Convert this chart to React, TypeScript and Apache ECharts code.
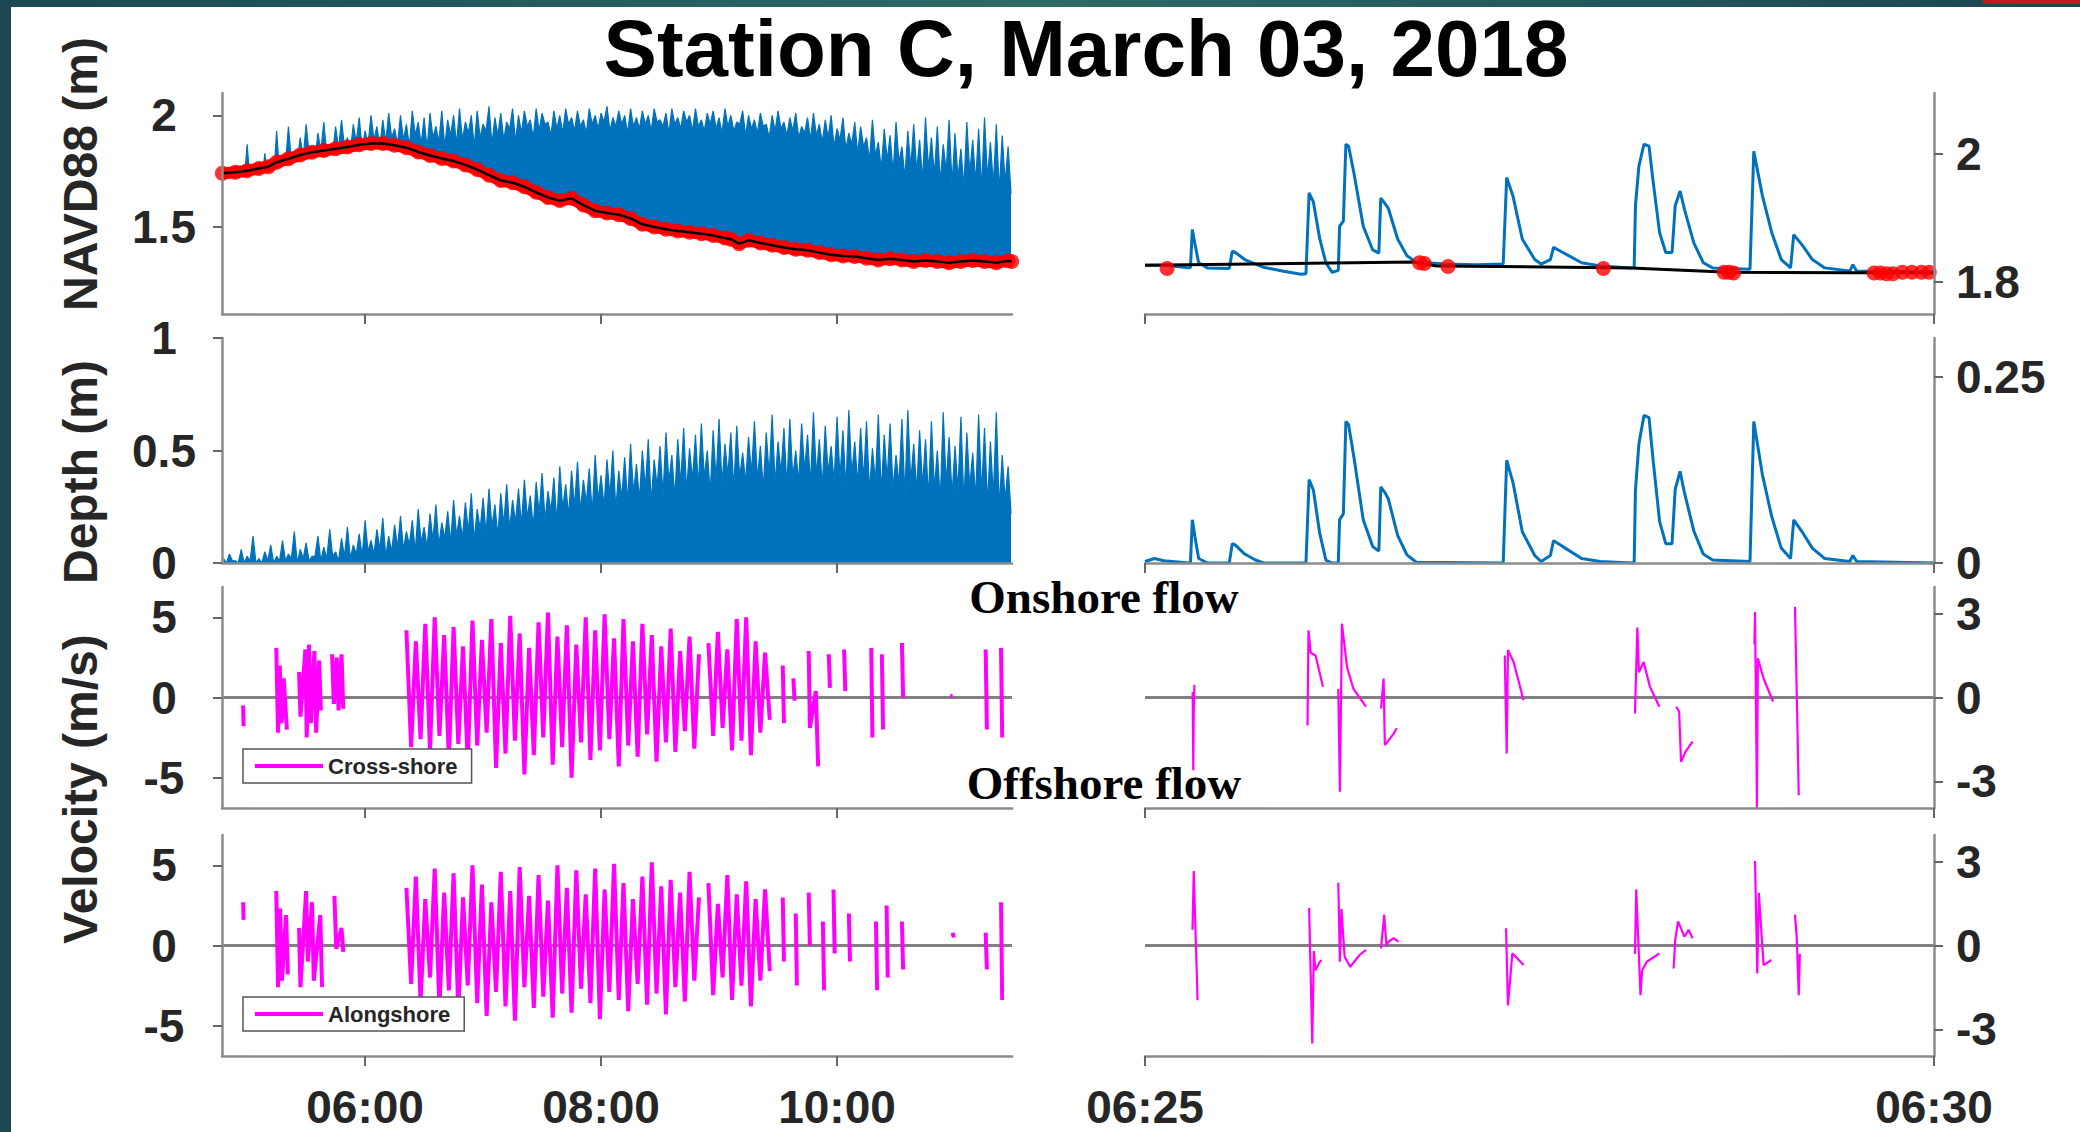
import React, { useEffect, useRef } from "react";
import * as echarts from "echarts";

const FONT = "'Liberation Sans', Arial, Helvetica, sans-serif";
const SERIF = "'Liberation Serif', 'Times New Roman', serif";

// ---------------- data ----------------
const titleText = "Station C, March 03, 2018";
const leftTickHours = [6, 8, 10];
const rightTickMinutes = [25, 30];
const navdLeftTicks = [1.5, 2];
const navdRightTicks = [1.8, 2];
const depthLeftTicks = [0, 0.5, 1];
const depthRightTicks = [0, 0.25];
const velLeftTicks = [-5, 0, 5];
const velRightTicks = [-3, 0, 3];

// dense records, left panels (hours): spike tops every denseStep from denseStart,
// and the troughs half a step later
const denseStart = 4.8;
const denseStep = 0.05;
const navdPeaks = [
  1.70, 1.70, 1.72, 1.70, 1.87, 1.72, 1.74, 1.83, 1.74, 1.93,
  1.80, 1.95, 1.82, 1.90, 1.96, 1.84, 1.92, 1.97, 1.85, 1.95,
  1.98, 1.90, 1.96, 1.99, 1.93, 2.00, 1.95, 1.98, 2.01, 1.94,
  2.00, 1.96, 2.02, 1.97, 1.99, 2.01, 1.95, 2.02, 1.98, 2.00,
  2.03, 1.97, 2.00, 2.02, 1.96, 2.04, 1.99, 2.01, 1.97, 2.03,
  2.00, 2.02, 1.98, 2.03, 2.01, 1.97, 2.02, 2.00, 2.03, 1.99,
  2.02, 1.98, 2.03, 2.00, 2.01, 2.04, 1.99, 2.02, 2.00, 2.03,
  1.99, 2.02, 2.00, 2.03, 1.98, 2.01, 2.03, 1.99, 2.02, 2.00,
  2.03, 1.98, 2.01, 2.02, 1.99, 2.03, 2.00, 1.97, 2.02, 2.00,
  1.98, 2.01, 1.96, 2.00, 2.02, 1.97, 1.99, 2.01, 1.95, 1.99,
  2.01, 1.96, 1.98, 2.00, 1.94, 1.99, 1.92, 1.97, 1.95, 1.90,
  1.98, 1.88, 1.94, 1.91, 1.97, 1.86, 1.93, 1.96, 1.89, 1.99,
  1.90, 1.95, 1.87, 1.98, 1.92, 1.85, 1.97, 1.89, 1.94, 1.99,
  1.88, 1.96, 1.91, 1.86,
];
const navdTroughs = [
  1.70, 1.70, 1.70, 1.70, 1.70, 1.70, 1.70, 1.70, 1.72, 1.74,
  1.78, 1.80, 1.79, 1.81, 1.83, 1.80, 1.84, 1.82, 1.83, 1.85,
  1.86, 1.84, 1.88, 1.85, 1.87, 1.89, 1.86, 1.88, 1.90, 1.87,
  1.89, 1.86, 1.91, 1.87, 1.85, 1.90, 1.88, 1.86, 1.91, 1.87,
  1.89, 1.92, 1.86, 1.90, 1.93, 1.87, 1.91, 1.89, 1.94, 1.88,
  1.92, 1.95, 1.90, 1.93, 1.96, 1.91, 1.94, 1.92, 1.96, 1.93,
  1.95, 1.92, 1.96, 1.94, 1.97, 1.93, 1.95, 1.96, 1.92, 1.95,
  1.94, 1.96, 1.93, 1.97, 1.95, 1.92, 1.96, 1.94, 1.97, 1.93,
  1.95, 1.93, 1.96, 1.94, 1.92, 1.95, 1.93, 1.96, 1.91, 1.94,
  1.92, 1.95, 1.90, 1.93, 1.94, 1.91, 1.93, 1.90, 1.92, 1.89,
  1.91, 1.88, 1.90, 1.86, 1.89, 1.85, 1.87, 1.83, 1.86, 1.80,
  1.82, 1.76, 1.80, 1.74, 1.79, 1.72, 1.77, 1.75, 1.71, 1.76,
  1.73, 1.70, 1.75, 1.69, 1.72, 1.68, 1.74, 1.70, 1.67, 1.72,
  1.69, 1.66, 1.70, 1.65,
];
const depthPeaks = [
  0.02, 0.04, 0.01, 0.06, 0.03, 0.12, 0.02, 0.05, 0.08, 0.03,
  0.10, 0.04, 0.14, 0.06, 0.09, 0.03, 0.12, 0.07, 0.15, 0.05,
  0.11, 0.16, 0.08, 0.13, 0.19, 0.10, 0.15, 0.20, 0.12, 0.17,
  0.21, 0.14, 0.19, 0.24, 0.16, 0.22, 0.26, 0.18, 0.23, 0.28,
  0.21, 0.27, 0.31, 0.24, 0.29, 0.33, 0.26, 0.31, 0.35, 0.28,
  0.33, 0.37, 0.30, 0.36, 0.40, 0.32, 0.38, 0.43, 0.35, 0.41,
  0.45, 0.37, 0.42, 0.48, 0.39, 0.46, 0.50, 0.41, 0.47, 0.53,
  0.44, 0.50, 0.55, 0.46, 0.52, 0.58, 0.48, 0.55, 0.60, 0.51,
  0.57, 0.62, 0.50, 0.59, 0.64, 0.53, 0.58, 0.61, 0.49, 0.56,
  0.63, 0.52, 0.58, 0.66, 0.54, 0.60, 0.64, 0.50, 0.62, 0.57,
  0.67, 0.55, 0.61, 0.52, 0.65, 0.59, 0.68, 0.54, 0.60, 0.63,
  0.51, 0.66, 0.57, 0.62, 0.48, 0.64, 0.68, 0.53, 0.59, 0.55,
  0.63, 0.50, 0.67, 0.56, 0.52, 0.65, 0.58, 0.49, 0.66, 0.60,
  0.54, 0.67, 0.48, 0.43,
];
const depthTroughs = [
  0.00, 0.01, 0.00, 0.00, 0.01, 0.00, 0.00, 0.01, 0.00, 0.01,
  0.01, 0.02, 0.00, 0.02, 0.01, 0.03, 0.01, 0.02, 0.03, 0.01,
  0.03, 0.02, 0.04, 0.03, 0.05, 0.04, 0.06, 0.03, 0.05, 0.07,
  0.06, 0.08, 0.05, 0.09, 0.07, 0.10, 0.08, 0.11, 0.09, 0.12,
  0.11, 0.14, 0.10, 0.15, 0.13, 0.16, 0.12, 0.17, 0.15, 0.18,
  0.17, 0.20, 0.16, 0.22, 0.19, 0.23, 0.18, 0.24, 0.21, 0.25,
  0.23, 0.27, 0.22, 0.28, 0.25, 0.30, 0.24, 0.29, 0.27, 0.31,
  0.28, 0.33, 0.27, 0.34, 0.30, 0.36, 0.29, 0.35, 0.32, 0.37,
  0.34, 0.38, 0.31, 0.37, 0.35, 0.39, 0.33, 0.38, 0.36, 0.40,
  0.37, 0.33, 0.39, 0.35, 0.40, 0.34, 0.38, 0.36, 0.41, 0.35,
  0.39, 0.34, 0.40, 0.36, 0.38, 0.33, 0.39, 0.35, 0.37, 0.32,
  0.36, 0.31, 0.37, 0.33, 0.35, 0.30, 0.36, 0.32, 0.34, 0.29,
  0.33, 0.28, 0.35, 0.30, 0.32, 0.27, 0.34, 0.29, 0.31, 0.26,
  0.30, 0.25, 0.28, 0.22,
];
// bed level (black line, red detections), left: [hour, m]
const bedLeft = [
  [4.79, 1.740], [4.90, 1.745], [5.00, 1.752], [5.10, 1.762], [5.18, 1.770], [5.25, 1.790],
  [5.35, 1.805], [5.45, 1.822], [5.55, 1.835], [5.65, 1.842], [5.75, 1.850], [5.85, 1.858],
  [5.95, 1.868], [6.05, 1.874], [6.15, 1.874], [6.25, 1.866], [6.35, 1.855], [6.45, 1.836],
  [6.55, 1.820], [6.65, 1.807], [6.75, 1.795], [6.85, 1.778], [6.95, 1.757], [7.05, 1.732],
  [7.15, 1.708], [7.25, 1.698], [7.35, 1.680], [7.45, 1.655], [7.55, 1.632], [7.65, 1.618],
  [7.75, 1.628], [7.85, 1.598], [7.95, 1.572], [8.05, 1.562], [8.15, 1.555], [8.25, 1.538],
  [8.35, 1.512], [8.45, 1.500], [8.55, 1.490], [8.65, 1.482], [8.75, 1.476], [8.85, 1.470],
  [8.95, 1.462], [9.05, 1.450], [9.10, 1.445], [9.17, 1.425], [9.25, 1.440], [9.35, 1.428],
  [9.45, 1.418], [9.55, 1.408], [9.65, 1.400], [9.75, 1.396], [9.85, 1.385], [9.95, 1.375],
  [10.05, 1.370], [10.15, 1.368], [10.25, 1.360], [10.35, 1.352], [10.45, 1.358], [10.55, 1.352],
  [10.65, 1.345], [10.75, 1.350], [10.85, 1.345], [10.95, 1.340], [11.05, 1.345], [11.15, 1.350],
  [11.25, 1.345], [11.35, 1.340], [11.45, 1.348], [11.48, 1.345],
];

// right panels: [minute after 06:00, value]
const navdRight = [
  [25.000, 1.826], [25.120, 1.826], [25.277, 1.822], [25.288, 1.823], [25.300, 1.882], [25.316, 1.860],
  [25.340, 1.830], [25.395, 1.822], [25.534, 1.821], [25.553, 1.848], [25.573, 1.846], [25.632, 1.835],
  [25.700, 1.828], [25.751, 1.823], [25.870, 1.817], [25.988, 1.812], [26.020, 1.813], [26.040, 1.939],
  [26.067, 1.925], [26.107, 1.868], [26.146, 1.830], [26.186, 1.815], [26.225, 1.818], [26.233, 1.887],
  [26.257, 1.895], [26.273, 2.015], [26.290, 2.012], [26.324, 1.970], [26.383, 1.887], [26.443, 1.850],
  [26.482, 1.845], [26.494, 1.931], [26.522, 1.922], [26.542, 1.915], [26.601, 1.867], [26.660, 1.841],
  [26.719, 1.831], [26.900, 1.828], [27.100, 1.827], [27.270, 1.828], [27.292, 1.963], [27.332, 1.934],
  [27.391, 1.867], [27.470, 1.835], [27.510, 1.828], [27.569, 1.835], [27.589, 1.854], [27.648, 1.846],
  [27.767, 1.830], [27.885, 1.825], [28.083, 1.822], [28.100, 1.823], [28.108, 1.919], [28.130, 1.981],
  [28.162, 2.015], [28.194, 2.012], [28.221, 1.955], [28.261, 1.877], [28.300, 1.846], [28.340, 1.846],
  [28.360, 1.919], [28.391, 1.942], [28.419, 1.913], [28.478, 1.861], [28.538, 1.830], [28.597, 1.822],
  [28.834, 1.820], [28.858, 2.004], [28.913, 1.934], [28.972, 1.877], [29.032, 1.835], [29.091, 1.822],
  [29.111, 1.874], [29.170, 1.856], [29.229, 1.835], [29.308, 1.822], [29.466, 1.817], [29.486, 1.827],
  [29.510, 1.817], [29.980, 1.816], [30.000, 1.816],
];
const depthRight = [
  [25.000, 0.002], [25.060, 0.006], [25.120, 0.003], [25.277, 0.000], [25.288, 0.000], [25.300, 0.058],
  [25.316, 0.036], [25.340, 0.006], [25.395, 0.000], [25.534, 0.000], [25.553, 0.026], [25.573, 0.024],
  [25.632, 0.012], [25.700, 0.004], [25.751, 0.000], [26.020, 0.000], [26.040, 0.112], [26.067, 0.098],
  [26.107, 0.040], [26.146, 0.004], [26.186, 0.000], [26.225, 0.000], [26.233, 0.058], [26.257, 0.066],
  [26.273, 0.190], [26.290, 0.186], [26.324, 0.142], [26.383, 0.058], [26.443, 0.022], [26.482, 0.016],
  [26.494, 0.102], [26.522, 0.094], [26.542, 0.086], [26.601, 0.037], [26.660, 0.011], [26.719, 0.001],
  [27.270, 0.000], [27.292, 0.138], [27.332, 0.108], [27.391, 0.042], [27.470, 0.010], [27.510, 0.002],
  [27.569, 0.010], [27.589, 0.030], [27.648, 0.022], [27.767, 0.006], [27.885, 0.002], [28.083, 0.000],
  [28.100, 0.001], [28.108, 0.098], [28.130, 0.160], [28.162, 0.198], [28.194, 0.195], [28.221, 0.136],
  [28.261, 0.056], [28.300, 0.026], [28.340, 0.026], [28.360, 0.099], [28.391, 0.123], [28.419, 0.094],
  [28.478, 0.043], [28.538, 0.012], [28.597, 0.004], [28.834, 0.002], [28.858, 0.190], [28.913, 0.118],
  [28.972, 0.062], [29.032, 0.020], [29.091, 0.006], [29.111, 0.058], [29.170, 0.040], [29.229, 0.020],
  [29.308, 0.006], [29.466, 0.002], [29.486, 0.010], [29.510, 0.002], [30.000, 0.000],
];
const bedRight = [[25.0, 1.826], [26.70, 1.831], [26.85, 1.825], [28.08, 1.822], [28.70, 1.815], [30.0, 1.814]];
const bedDetectRight = [
  [25.14, 1.821], [26.74, 1.830], [26.77, 1.829], [26.92, 1.824], [27.905, 1.821], [28.67, 1.815],
  [28.70, 1.815], [28.73, 1.814], [29.62, 1.814], [29.66, 1.814], [29.70, 1.813], [29.74, 1.813],
  [29.80, 1.815], [29.86, 1.815], [29.92, 1.815], [29.97, 1.815],
];

// velocities, left: dense part sampled every velStep from velStart (null = no data)
const velStart = 6.35;
const velStep = 0.04;
const crossDense = [
  4.2, -3.1, 3.5, -2.6, 4.6, -3.3, 5.0, -2.4, 3.9, -3.8,
  4.4, -2.9, 3.2, -4.1, 4.8, -3.0, 3.6, -2.2, 4.9, -4.4,
  3.4, -3.5, 5.1, -2.7, 4.0, -4.8, 3.1, -3.6, 4.7, -2.5,
  5.3, -4.2, 3.8, -3.1, 4.5, -5.0, 3.3, -2.8, 5.0, -3.9,
  4.2, -3.3, 5.2, -2.6, 3.7, -4.3, 4.9, -3.0, 3.5, -3.7,
  4.6, -2.3, 3.9, -4.0, 3.2, -2.8, 4.3, -3.4, 2.9, -2.1,
  3.8, -3.2, 2.7, null, 3.4, -2.4, 4.1, -1.9, 3.0, -3.3,
  4.9, -2.7, 5.0, -3.6, 3.5, -2.2, 2.8, -1.4,
];
const alongDense = [
  3.6, -2.4, 4.3, -3.5, 2.9, -2.0, 4.8, -3.9, 3.3, -2.8,
  4.5, -4.0, 3.0, -2.5, 5.0, -3.6, 3.8, -4.4, 2.7, -2.9,
  4.6, -3.8, 3.4, -4.7, 4.9, -2.6, 3.1, -3.9, 4.4, -3.2,
  2.8, -4.5, 5.0, -3.0, 3.6, -4.2, 4.7, -2.7, 3.2, -3.6,
  4.8, -4.6, 3.5, -2.9, 5.1, -3.4, 3.9, -4.1, 2.9, -2.4,
  4.3, -3.7, 5.2, -3.0, 3.7, -4.3, 4.1, -2.6, 3.3, -3.5,
  4.6, -2.2, 3.0, null, 3.9, -3.1, 2.6, -2.0, 4.4, -3.4,
  3.2, -2.5, 4.0, -3.8, 2.9, -2.2, 3.5, -1.6,
];
// velocity bursts (separated by gaps): [hour, m/s]
const crossBurstsLeft = [
  [[4.966, -0.5], [4.970, -1.8]],
  [[5.247, 3.1], [5.262, -2.2], [5.277, 2.0], [5.292, -1.6], [5.310, 1.2], [5.337, -2.0]],
  [[5.440, 1.6], [5.452, -1.2], [5.494, 3.0], [5.505, -2.5], [5.525, 3.3], [5.540, -1.6], [5.570, 2.9], [5.585, -2.2], [5.610, 2.3], [5.625, -0.8]],
  [[5.720, 2.7], [5.735, -0.4], [5.760, 2.5], [5.775, -0.8], [5.800, 2.7], [5.815, -0.7]],
  [[9.54, 2.0], [9.55, -1.6]],
  [[9.63, 1.2], [9.64, -0.2]],
  [[9.76, 2.9], [9.77, -1.9], [9.82, 0.4], [9.84, -4.3]],
  [[9.93, 2.7], [9.94, 0.6]],
  [[10.06, 3.0], [10.07, 0.4]],
  [[10.29, 3.1], [10.30, -2.5]],
  [[10.38, 2.7], [10.39, -2.0]],
  [[10.55, 3.4], [10.56, 0.0]],
  [[10.96, 0.1], [10.98, 0.1]],
  [[11.26, 3.0], [11.27, -2.0]],
  [[11.39, 3.1], [11.40, -2.5]],
];
const alongBurstsLeft = [
  [[4.966, 2.7], [4.970, 1.6]],
  [[5.247, 3.4], [5.262, -2.6], [5.280, 2.3], [5.295, -2.2], [5.330, 1.9], [5.345, -1.8]],
  [[5.440, 1.1], [5.452, -2.6], [5.500, 3.4], [5.515, -1.0], [5.550, 2.7], [5.565, -2.2], [5.620, 1.9], [5.635, -2.6]],
  [[5.740, 3.1], [5.755, -0.2], [5.800, 1.1], [5.815, -0.4]],
  [[9.54, 3.0], [9.55, -1.0]],
  [[9.65, 2.0], [9.66, -2.5]],
  [[9.76, 3.3], [9.77, 0.0]],
  [[9.88, 1.5], [9.89, -2.8]],
  [[9.97, 3.5], [9.98, -0.5]],
  [[10.10, 2.0], [10.11, -1.0]],
  [[10.33, 1.5], [10.34, -2.8]],
  [[10.42, 2.5], [10.43, -2.0]],
  [[10.55, 1.5], [10.56, -1.5]],
  [[10.98, 0.8], [10.99, 0.5]],
  [[11.26, 0.8], [11.27, -1.5]],
  [[11.39, 2.7], [11.40, -3.4]],
];
// right: [minute after 06:00, m/s]
const crossBurstsRight = [
  [[25.302, 0.2], [25.306, -2.6], [25.309, -0.4], [25.313, 0.45]],
  [[26.030, -1.0], [26.036, 2.4], [26.050, 1.6], [26.081, 1.5], [26.128, 0.38]],
  [[26.225, 0.3], [26.235, -3.37], [26.248, 2.64], [26.280, 1.1], [26.320, 0.32], [26.400, -0.33]],
  [[26.496, -0.4], [26.512, 0.68], [26.520, -1.7], [26.575, -1.3], [26.595, -1.1]],
  [[27.280, 1.5], [27.292, -2.0], [27.300, 1.7], [27.336, 1.27], [27.399, -0.1]],
  [[28.105, -0.57], [28.120, 2.5], [28.130, 0.9], [28.160, 1.27], [28.200, 0.38], [28.260, -0.33]],
  [[28.366, -0.33], [28.385, -0.5], [28.397, -2.3], [28.425, -1.94], [28.470, -1.58]],
  [[28.862, 1.9], [28.866, 3.06], [28.872, -0.5], [28.878, -3.96], [28.884, 1.4], [28.920, 0.68], [28.980, -0.15]],
  [[29.119, 3.24], [29.135, -1.2], [29.143, -3.49]],
];
const alongBurstsRight = [
  [[25.301, 0.56], [25.309, 2.66], [25.333, -1.96]],
  [[26.040, 1.34], [26.060, -3.5], [26.070, -0.2], [26.080, -0.88], [26.108, -0.58], [26.120, -0.52]],
  [[26.225, 2.24], [26.235, -0.58], [26.245, 1.3], [26.265, -0.4], [26.300, -0.76], [26.360, -0.34], [26.400, -0.16]],
  [[26.496, -0.1], [26.516, 1.1], [26.530, 0.0], [26.544, 0.14], [26.575, 0.26], [26.607, 0.14]],
  [[27.288, 0.62], [27.300, -2.14], [27.328, -0.28], [27.399, -0.7]],
  [[28.105, -0.3], [28.113, 2.0], [28.140, -1.78], [28.150, -0.9], [28.180, -0.58], [28.260, -0.28]],
  [[28.350, -0.82], [28.360, 0.2], [28.378, 0.86], [28.418, 0.32], [28.445, 0.56], [28.470, 0.26]],
  [[28.866, 3.02], [28.880, -1.0], [28.890, 1.88], [28.920, -0.7], [28.970, -0.52]],
  [[29.119, 1.1], [29.130, 0.3], [29.143, -1.78], [29.150, -0.3]],
];

// ---------------- helpers ----------------
const pad = (n: number) => (n < 10 ? "0" + n : "" + n);
const fmtHour = (v: number) => {
  const h = Math.floor(v + 1e-6);
  const m = Math.round((v - h) * 60);
  return pad(h) + ":" + pad(m);
};
const fmtMinute = (v: number) => "06:" + pad(Math.round(v));

const sampled = (start: number, step: number, vals: (number | null)[]) =>
  vals.map((v, i) => [+(start + i * step).toFixed(4), v === null ? "-" : v]);

// peaks at the sample times, troughs half a step later
const spiky = (peaks: number[], troughs: number[]) => {
  const out: number[][] = [];
  peaks.forEach((p, i) => {
    const t = denseStart + i * denseStep;
    out.push([+t.toFixed(4), p]);
    out.push([+(t + denseStep / 2).toFixed(4), troughs[i]]);
  });
  return out;
};

const withGaps = (bursts: any[][]) => {
  const out: any[] = [];
  bursts.forEach((b) => {
    b.forEach((p: any) => out.push(p));
    out.push([b[b.length - 1][0] + 0.0005, "-"]);
  });
  return out;
};
const velLeft = (bursts: number[][][], dense: (number | null)[]) => {
  const denseBurst = sampled(velStart, velStep, dense);
  const before = bursts.filter((b) => b[0][0] < velStart);
  const after = bursts.filter((b) => b[0][0] > velStart);
  return withGaps([...before, denseBurst, ...after]);
};

const AXIS = "#8c8c8c";
const LABEL = "#262626";
const BLUE = "#0072BD";
const MAGENTA = "#ff00ff";

const L = { left: 222, width: 790 };
const R = { left: 1145, width: 789 };
const rows = [
  { top: 93, height: 221 },
  { top: 338, height: 225 },
  { top: 587, height: 221 },
  { top: 835, height: 221 },
];
const LEFT_MIN = 4.787;
const LEFT_MAX = 11.483;

function xAx(gridIndex: number, min: number, max: number, ticks: number[], fmt: any, show: boolean) {
  return {
    type: "value",
    gridIndex,
    min,
    max,
    z: 10,
    axisLine: { show: true, onZero: false, lineStyle: { color: AXIS, width: 2.5 } },
    axisTick: { show: true, customValues: ticks, length: 10, inside: false, lineStyle: { color: "#666", width: 2 } },
    axisLabel: {
      show,
      customValues: ticks,
      formatter: fmt,
      margin: 28,
      fontSize: 46,
      fontWeight: "bold",
      color: LABEL,
      fontFamily: FONT,
    },
    splitLine: { show: false },
  };
}
function yAx(gridIndex: number, min: number, max: number, ticks: number[], position: string) {
  const isLeft = position === "left";
  return {
    type: "value",
    gridIndex,
    min,
    max,
    position,
    z: 10,
    axisLine: { show: true, onZero: false, lineStyle: { color: AXIS, width: 2.5 } },
    axisTick: { show: true, customValues: ticks, length: 9, inside: false, lineStyle: { color: "#666", width: 2 } },
    axisLabel: {
      customValues: ticks,
      margin: isLeft ? 58 : 22,
      align: isLeft ? "center" : "left",
      fontSize: 46,
      fontWeight: "bold",
      color: LABEL,
      fontFamily: FONT,
    },
    splitLine: { show: false },
  };
}

const zeroLine = {
  silent: true,
  symbol: ["none", "none"],
  label: { show: false },
  lineStyle: { color: "#808080", width: 3, type: "solid" },
  data: [{ yAxis: 0 }],
  z: 1,
};

function buildOption() {
  const grid: any[] = [];
  rows.forEach((r) => {
    grid.push({ left: L.left, width: L.width, top: r.top, height: r.height, containLabel: false });
    grid.push({ left: R.left, width: R.width, top: r.top, height: r.height, containLabel: false });
  });
  const xAxis = [
    xAx(0, LEFT_MIN, LEFT_MAX, leftTickHours, fmtHour, false),
    xAx(1, 25, 30, rightTickMinutes, fmtMinute, false),
    xAx(2, LEFT_MIN, LEFT_MAX, leftTickHours, fmtHour, false),
    xAx(3, 25, 30, rightTickMinutes, fmtMinute, false),
    xAx(4, LEFT_MIN, LEFT_MAX, leftTickHours, fmtHour, false),
    xAx(5, 25, 30, rightTickMinutes, fmtMinute, false),
    xAx(6, LEFT_MIN, LEFT_MAX, leftTickHours, fmtHour, true),
    xAx(7, 25, 30, rightTickMinutes, fmtMinute, true),
  ];
  const yAxis = [
    yAx(0, 1.11, 2.1, navdLeftTicks, "left"),
    yAx(1, 1.75, 2.095, navdRightTicks, "right"),
    yAx(2, 0, 1, depthLeftTicks, "left"),
    yAx(3, 0, 0.302, depthRightTicks, "right"),
    yAx(4, -6.9, 6.9, velLeftTicks, "left"),
    yAx(5, -3.95, 3.95, velRightTicks, "right"),
    yAx(6, -6.9, 6.9, velLeftTicks, "left"),
    yAx(7, -3.95, 3.95, velRightTicks, "right"),
  ];

  const series: any[] = [
    // NAVD88 left: spiky record, masked below the bed
    {
      name: "NAVD88 left",
      type: "line",
      xAxisIndex: 0,
      yAxisIndex: 0,
      data: spiky(navdPeaks, navdTroughs),
      symbol: "none",
      lineStyle: { color: BLUE, width: 1.2 },
      areaStyle: { color: BLUE, opacity: 1, origin: "start" },
      z: 1,
      silent: true,
    },
    {
      name: "bed mask",
      type: "line",
      xAxisIndex: 0,
      yAxisIndex: 0,
      data: bedLeft,
      symbol: "none",
      lineStyle: { width: 0, opacity: 0 },
      areaStyle: { color: "#ffffff", opacity: 1, origin: "start" },
      z: 2,
      silent: true,
    },
    {
      name: "bed detect band",
      type: "line",
      xAxisIndex: 0,
      yAxisIndex: 0,
      data: bedLeft,
      symbol: "none",
      lineStyle: { color: "#ff0000", width: 12 },
      z: 3,
      silent: true,
    },
    {
      name: "bed detect",
      type: "scatter",
      xAxisIndex: 0,
      yAxisIndex: 0,
      data: bedLeft,
      symbolSize: 15,
      itemStyle: { color: "#ff0000" },
      z: 3,
      silent: true,
    },
    {
      name: "bed",
      type: "line",
      xAxisIndex: 0,
      yAxisIndex: 0,
      data: bedLeft,
      symbol: "none",
      lineStyle: { color: "#000000", width: 2.5 },
      z: 4,
      silent: true,
    },
    // NAVD88 right
    {
      name: "NAVD88 right",
      type: "line",
      xAxisIndex: 1,
      yAxisIndex: 1,
      data: navdRight,
      symbol: "none",
      lineStyle: { color: BLUE, width: 3 },
      z: 2,
      silent: true,
    },
    {
      name: "bed right",
      type: "line",
      xAxisIndex: 1,
      yAxisIndex: 1,
      data: bedRight,
      symbol: "none",
      lineStyle: { color: "#000000", width: 3 },
      z: 3,
      silent: true,
    },
    {
      name: "bed detect right",
      type: "scatter",
      xAxisIndex: 1,
      yAxisIndex: 1,
      data: bedDetectRight,
      symbolSize: 15,
      itemStyle: { color: "#ff0000" },
      z: 4,
      silent: true,
    },
    // Depth
    {
      name: "Depth left",
      type: "line",
      xAxisIndex: 2,
      yAxisIndex: 2,
      data: spiky(depthPeaks, depthTroughs),
      symbol: "none",
      lineStyle: { color: BLUE, width: 1.2 },
      areaStyle: { color: BLUE, opacity: 1, origin: "start" },
      z: 2,
      silent: true,
    },
    {
      name: "Depth right",
      type: "line",
      xAxisIndex: 3,
      yAxisIndex: 3,
      data: depthRight,
      symbol: "none",
      lineStyle: { color: BLUE, width: 3 },
      z: 2,
      silent: true,
    },
    // Velocities
    {
      name: "Cross-shore",
      type: "line",
      xAxisIndex: 4,
      yAxisIndex: 4,
      data: velLeft(crossBurstsLeft, crossDense),
      symbol: "none",
      connectNulls: false,
      lineStyle: { color: MAGENTA, width: 4 },
      itemStyle: { color: MAGENTA },
      markLine: zeroLine,
      z: 3,
      silent: true,
    },
    {
      name: "Cross-shore",
      type: "line",
      xAxisIndex: 5,
      yAxisIndex: 5,
      data: withGaps(crossBurstsRight),
      symbol: "none",
      connectNulls: false,
      lineStyle: { color: MAGENTA, width: 2.2 },
      itemStyle: { color: MAGENTA },
      markLine: zeroLine,
      z: 3,
      silent: true,
    },
    {
      name: "Alongshore",
      type: "line",
      xAxisIndex: 6,
      yAxisIndex: 6,
      data: velLeft(alongBurstsLeft, alongDense),
      symbol: "none",
      connectNulls: false,
      lineStyle: { color: MAGENTA, width: 4 },
      itemStyle: { color: MAGENTA },
      markLine: zeroLine,
      z: 3,
      silent: true,
    },
    {
      name: "Alongshore",
      type: "line",
      xAxisIndex: 7,
      yAxisIndex: 7,
      data: withGaps(alongBurstsRight),
      symbol: "none",
      connectNulls: false,
      lineStyle: { color: MAGENTA, width: 2.2 },
      itemStyle: { color: MAGENTA },
      markLine: zeroLine,
      z: 3,
      silent: true,
    },
  ];

  const legendBase = {
    orient: "horizontal",
    icon: "rect",
    itemWidth: 68,
    itemHeight: 4,
    itemGap: 10,
    selectedMode: false,
    backgroundColor: "#ffffff",
    borderColor: "#555555",
    borderWidth: 1.5,
    borderRadius: 0,
    padding: [6, 14, 6, 12],
    z: 20,
    textStyle: { fontSize: 22, fontWeight: "bold", color: LABEL, fontFamily: FONT },
  };

  const vText = (text: string, x: number, y: number) => ({
    type: "text",
    x,
    y,
    rotation: Math.PI / 2,
    style: {
      text,
      fill: LABEL,
      font: `bold 48px ${FONT}`,
      textAlign: "center",
      textVerticalAlign: "middle",
    },
  });

  return {
    animation: false,
    backgroundColor: "#ffffff",
    textStyle: { fontFamily: FONT },
    grid,
    xAxis,
    yAxis,
    series,
    legend: [
      { ...legendBase, data: ["Cross-shore"], left: 243, top: 749 },
      { ...legendBase, data: ["Alongshore"], left: 243, top: 997 },
    ],
    graphic: [
      {
        type: "rect",
        shape: { x: 0, y: 0, width: 2080, height: 7 },
        style: {
          fill: {
            type: "linear",
            x: 0,
            y: 0,
            x2: 1,
            y2: 0,
            colorStops: [
              { offset: 0, color: "#1c4856" },
              { offset: 0.5, color: "#2f6b67" },
              { offset: 1, color: "#1c4454" },
            ],
          },
        },
        z: 50,
      },
      { type: "rect", shape: { x: 0, y: 0, width: 11, height: 1132 }, style: { fill: "#1c4653" }, z: 50 },
      { type: "rect", shape: { x: 1983, y: 0, width: 97, height: 4 }, style: { fill: "#c4161c" }, z: 51 },
      {
        type: "text",
        x: 1086,
        y: 48,
        style: {
          text: titleText,
          fill: "#000000",
          font: `bold 80px ${FONT}`,
          textAlign: "center",
          textVerticalAlign: "middle",
        },
        z: 30,
      },
      vText("NAVD88 (m)", 80, 174),
      vText("Depth (m)", 80, 472),
      vText("Velocity (m/s)", 80, 789),
      {
        type: "text",
        x: 1104,
        y: 597,
        style: {
          text: "Onshore flow",
          fill: "#000000",
          font: `bold 47px ${SERIF}`,
          textAlign: "center",
          textVerticalAlign: "middle",
        },
        z: 30,
      },
      {
        type: "text",
        x: 1104,
        y: 783,
        style: {
          text: "Offshore flow",
          fill: "#000000",
          font: `bold 47px ${SERIF}`,
          textAlign: "center",
          textVerticalAlign: "middle",
        },
        z: 30,
      },
    ],
  };
}

export default function App() {
  const ref = useRef<HTMLDivElement>(null);
  useEffect(() => {
    if (!ref.current) return;
    const chart = echarts.init(ref.current, null, { renderer: "svg" });
    chart.setOption(buildOption() as any);
    return () => chart.dispose();
  }, []);
  return (
    <div
      ref={ref}
      style={{ position: "fixed", left: 0, top: 0, width: 2080, height: 1132, background: "#ffffff" }}
    />
  );
}
